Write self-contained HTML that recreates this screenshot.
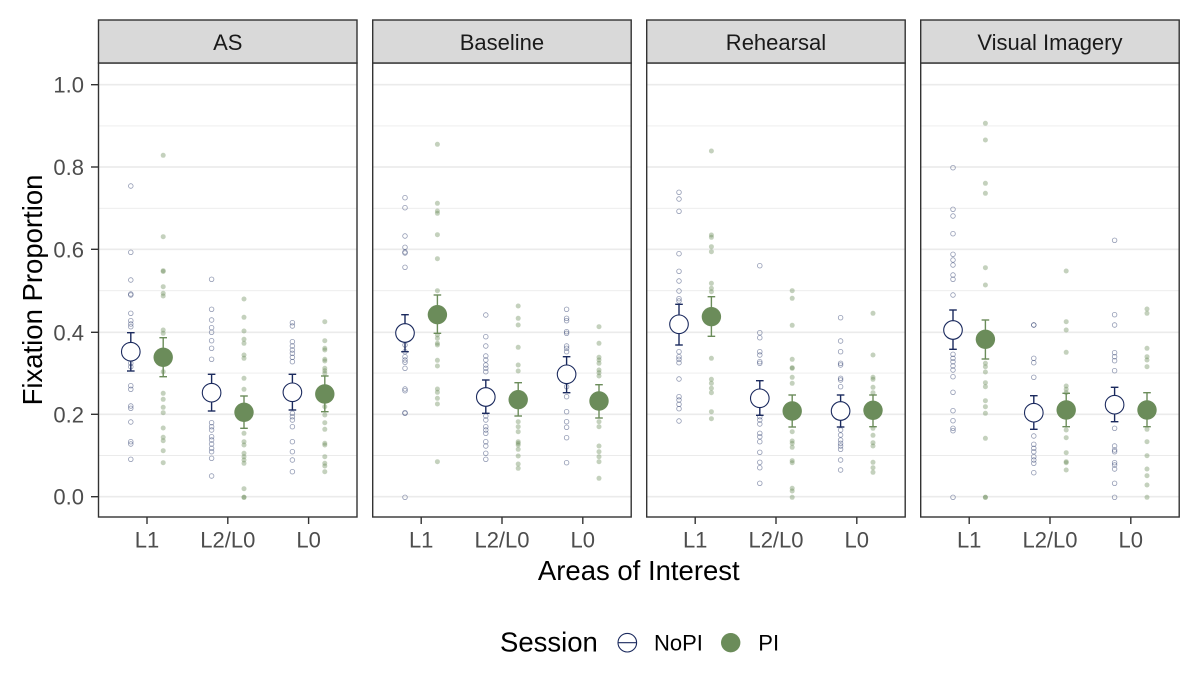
<!DOCTYPE html>
<html><head><meta charset="utf-8"><style>
html,body{margin:0;padding:0;background:#fff}
svg{display:block}
text{font-family:"Liberation Sans",Arial,sans-serif}
.n{fill:none;stroke:#283869;stroke-opacity:.5;stroke-width:.8}
.p{fill:#6b8c5a;fill-opacity:.4}
.en{stroke:#1b2a5e;stroke-width:1.4;fill:none}
.ep{stroke:#6b8c5a;stroke-width:1.4;fill:none}
.bn{fill:#fff;stroke:#1b2a5e;stroke-width:1.1}
.bp{fill:#6b8c5a}
.gM{stroke:#ebebeb;stroke-width:1.7}
.gm{stroke:#ebebeb;stroke-width:0.9}
.tl{font-size:22px;fill:#4d4d4d}
.st{font-size:22px;fill:#1a1a1a}
</style></head><body>
<svg width="1200" height="674" viewBox="0 0 1200 674" xmlns="http://www.w3.org/2000/svg">
<rect width="1200" height="674" fill="#fff"/>

<!-- y axis title -->
<text transform="translate(42,290) rotate(-90)" text-anchor="middle" font-size="27.5" fill="#000">Fixation Proportion</text>
<!-- y tick labels -->
<g class="tl" text-anchor="end">
<text x="84" y="92.7">1.0</text>
<text x="84" y="175">0.8</text>
<text x="84" y="257.3">0.6</text>
<text x="84" y="340.3">0.4</text>
<text x="84" y="422.3">0.2</text>
<text x="84" y="504.7">0.0</text>
</g>
<g stroke="#333" stroke-width="1.4">
<line x1="91" x2="98.5" y1="84.7" y2="84.7"/>
<line x1="91" x2="98.5" y1="167" y2="167"/>
<line x1="91" x2="98.5" y1="249.3" y2="249.3"/>
<line x1="91" x2="98.5" y1="332.3" y2="332.3"/>
<line x1="91" x2="98.5" y1="414.3" y2="414.3"/>
<line x1="91" x2="98.5" y1="496.7" y2="496.7"/>
</g>

<!-- panel template: defs -->
<defs>
<g id="grid">
<rect x="0" y="63" width="258.5" height="454" fill="#fff"/>
<line class="gm" x1="0" x2="258.5" y1="125.9" y2="125.9"/>
<line class="gm" x1="0" x2="258.5" y1="208.3" y2="208.3"/>
<line class="gm" x1="0" x2="258.5" y1="290.7" y2="290.7"/>
<line class="gm" x1="0" x2="258.5" y1="373.1" y2="373.1"/>
<line class="gm" x1="0" x2="258.5" y1="455.5" y2="455.5"/>
<line class="gM" x1="0" x2="258.5" y1="84.7" y2="84.7"/>
<line class="gM" x1="0" x2="258.5" y1="167" y2="167"/>
<line class="gM" x1="0" x2="258.5" y1="249.3" y2="249.3"/>
<line class="gM" x1="0" x2="258.5" y1="332.3" y2="332.3"/>
<line class="gM" x1="0" x2="258.5" y1="414.3" y2="414.3"/>
<line class="gM" x1="0" x2="258.5" y1="496.7" y2="496.7"/>
</g>
<g id="frame">
<rect x="0" y="63" width="258.5" height="454" fill="none" stroke="#333" stroke-width="1.4"/>
<rect x="0" y="20" width="258.5" height="43" fill="#d9d9d9" stroke="#333" stroke-width="1.4"/>
<g stroke="#333" stroke-width="1.4">
<line x1="48.5" x2="48.5" y1="517" y2="524"/>
<line x1="129.3" x2="129.3" y1="517" y2="524"/>
<line x1="210.1" x2="210.1" y1="517" y2="524"/>
</g>
<g class="tl" text-anchor="middle">
<text x="48.5" y="547.3">L1</text>
<text x="129.3" y="547.3">L2/L0</text>
<text x="210.1" y="547.3">L0</text>
</g>
</g>
</defs>

<!-- ===== Panel 1: AS ===== -->
<g transform="translate(98.5,0)">
<use href="#grid"/>
<g transform="translate(32.3,0)">
<circle class="n" cy="186" r="2.3"/><circle class="n" cy="252.3" r="2.3"/><circle class="n" cy="280" r="2.3"/><circle class="n" cy="294" r="2.3"/><circle class="n" cy="295" r="2.3"/><circle class="n" cy="313.3" r="2.3"/><circle class="n" cy="320.7" r="2.3"/><circle class="n" cy="324" r="2.3"/><circle class="n" cy="326.7" r="2.3"/><circle class="n" cy="363.3" r="2.3"/><circle class="n" cy="366.7" r="2.3"/><circle class="n" cy="385.7" r="2.3"/><circle class="n" cy="389.3" r="2.3"/><circle class="n" cy="406" r="2.3"/><circle class="n" cy="408.3" r="2.3"/><circle class="n" cy="422" r="2.3"/><circle class="n" cy="441.7" r="2.3"/><circle class="n" cy="444" r="2.3"/><circle class="n" cy="459.3" r="2.3"/>
<line class="en" x1="0" x2="0" y1="332.7" y2="371"/><line class="en" x1="-3.8" x2="3.8" y1="332.7" y2="332.7"/><line class="en" x1="-3.8" x2="3.8" y1="371" y2="371"/>
<circle class="bn" cy="351.7" r="9.3"/>
</g>
<g transform="translate(64.7,0)">
<circle class="p" cy="155.3" r="2.5"/><circle class="p" cy="236.7" r="2.5"/><circle class="p" cy="270.7" r="2.5"/><circle class="p" cy="271.5" r="2.5"/><circle class="p" cy="286.7" r="2.5"/><circle class="p" cy="293.3" r="2.5"/><circle class="p" cy="296" r="2.5"/><circle class="p" cy="330" r="2.5"/><circle class="p" cy="333.3" r="2.5"/><circle class="p" cy="371.7" r="2.5"/><circle class="p" cy="393.3" r="2.5"/><circle class="p" cy="399.3" r="2.5"/><circle class="p" cy="407.3" r="2.5"/><circle class="p" cy="412.7" r="2.5"/><circle class="p" cy="428" r="2.5"/><circle class="p" cy="437.3" r="2.5"/><circle class="p" cy="440.7" r="2.5"/><circle class="p" cy="450.7" r="2.5"/><circle class="p" cy="462.7" r="2.5"/>
<line class="ep" x1="0" x2="0" y1="337.7" y2="376.7"/><line class="ep" x1="-3.8" x2="3.8" y1="337.7" y2="337.7"/><line class="ep" x1="-3.8" x2="3.8" y1="376.7" y2="376.7"/>
<circle class="bp" cy="357.3" r="9.7"/>
</g>
<g transform="translate(113.1,0)">
<circle class="n" cy="279.3" r="2.3"/><circle class="n" cy="309.3" r="2.3"/><circle class="n" cy="320" r="2.3"/><circle class="n" cy="327.7" r="2.3"/><circle class="n" cy="332.3" r="2.3"/><circle class="n" cy="340.7" r="2.3"/><circle class="n" cy="348.3" r="2.3"/><circle class="n" cy="359.3" r="2.3"/><circle class="n" cy="422.7" r="2.3"/><circle class="n" cy="426.7" r="2.3"/><circle class="n" cy="430" r="2.3"/><circle class="n" cy="436.7" r="2.3"/><circle class="n" cy="440" r="2.3"/><circle class="n" cy="444" r="2.3"/><circle class="n" cy="448.3" r="2.3"/><circle class="n" cy="451.7" r="2.3"/><circle class="n" cy="458.3" r="2.3"/><circle class="n" cy="476" r="2.3"/>
<line class="en" x1="0" x2="0" y1="374.3" y2="411"/><line class="en" x1="-3.8" x2="3.8" y1="374.3" y2="374.3"/><line class="en" x1="-3.8" x2="3.8" y1="411" y2="411"/>
<circle class="bn" cy="392.7" r="9.3"/>
</g>
<g transform="translate(145.5,0)">
<circle class="p" cy="299" r="2.5"/><circle class="p" cy="317.3" r="2.5"/><circle class="p" cy="331" r="2.5"/><circle class="p" cy="339.3" r="2.5"/><circle class="p" cy="343.3" r="2.5"/><circle class="p" cy="355" r="2.5"/><circle class="p" cy="358.3" r="2.5"/><circle class="p" cy="378.3" r="2.5"/><circle class="p" cy="389.3" r="2.5"/><circle class="p" cy="433.3" r="2.5"/><circle class="p" cy="441.7" r="2.5"/><circle class="p" cy="445" r="2.5"/><circle class="p" cy="453.3" r="2.5"/><circle class="p" cy="456.7" r="2.5"/><circle class="p" cy="460" r="2.5"/><circle class="p" cy="463.3" r="2.5"/><circle class="p" cy="488.7" r="2.5"/><circle class="p" cy="497.3" r="2.5"/><circle class="p" cy="497.3" r="2.5"/>
<line class="ep" x1="0" x2="0" y1="396" y2="428.3"/><line class="ep" x1="-3.8" x2="3.8" y1="396" y2="396"/><line class="ep" x1="-3.8" x2="3.8" y1="428.3" y2="428.3"/>
<circle class="bp" cy="412.3" r="9.7"/>
</g>
<g transform="translate(193.9,0)">
<circle class="n" cy="322.7" r="2.3"/><circle class="n" cy="326" r="2.3"/><circle class="n" cy="341.7" r="2.3"/><circle class="n" cy="346" r="2.3"/><circle class="n" cy="350" r="2.3"/><circle class="n" cy="353.3" r="2.3"/><circle class="n" cy="357.3" r="2.3"/><circle class="n" cy="361.7" r="2.3"/><circle class="n" cy="413.3" r="2.3"/><circle class="n" cy="416.7" r="2.3"/><circle class="n" cy="420" r="2.3"/><circle class="n" cy="426.7" r="2.3"/><circle class="n" cy="441.7" r="2.3"/><circle class="n" cy="451.7" r="2.3"/><circle class="n" cy="460" r="2.3"/><circle class="n" cy="471.7" r="2.3"/>
<line class="en" x1="0" x2="0" y1="374.3" y2="410"/><line class="en" x1="-3.8" x2="3.8" y1="374.3" y2="374.3"/><line class="en" x1="-3.8" x2="3.8" y1="410" y2="410"/>
<circle class="bn" cy="392.3" r="9.3"/>
</g>
<g transform="translate(226.3,0)">
<circle class="p" cy="321.7" r="2.5"/><circle class="p" cy="340.7" r="2.5"/><circle class="p" cy="348.3" r="2.5"/><circle class="p" cy="350" r="2.5"/><circle class="p" cy="359.3" r="2.5"/><circle class="p" cy="361" r="2.5"/><circle class="p" cy="368.3" r="2.5"/><circle class="p" cy="370.7" r="2.5"/><circle class="p" cy="373.3" r="2.5"/><circle class="p" cy="406.7" r="2.5"/><circle class="p" cy="415" r="2.5"/><circle class="p" cy="422.7" r="2.5"/><circle class="p" cy="429.3" r="2.5"/><circle class="p" cy="443.3" r="2.5"/><circle class="p" cy="445" r="2.5"/><circle class="p" cy="456.7" r="2.5"/><circle class="p" cy="463.3" r="2.5"/><circle class="p" cy="466" r="2.5"/><circle class="p" cy="471.7" r="2.5"/>
<line class="ep" x1="0" x2="0" y1="376" y2="411.7"/><line class="ep" x1="-3.8" x2="3.8" y1="376" y2="376"/><line class="ep" x1="-3.8" x2="3.8" y1="411.7" y2="411.7"/>
<circle class="bp" cy="394" r="9.7"/>
</g>
<use href="#frame"/>
<text class="st" x="129.25" y="50" text-anchor="middle">AS</text>
</g>

<!-- ===== Panel 2: Baseline ===== -->
<g transform="translate(372.7,0)">
<use href="#grid"/>
<g transform="translate(32.3,0)">
<circle class="n" cy="197.7" r="2.3"/><circle class="n" cy="207.7" r="2.3"/><circle class="n" cy="236" r="2.3"/><circle class="n" cy="247.3" r="2.3"/><circle class="n" cy="252" r="2.3"/><circle class="n" cy="253" r="2.3"/><circle class="n" cy="267.3" r="2.3"/><circle class="n" cy="345" r="2.3"/><circle class="n" cy="351.7" r="2.3"/><circle class="n" cy="356.7" r="2.3"/><circle class="n" cy="360" r="2.3"/><circle class="n" cy="362.3" r="2.3"/><circle class="n" cy="368.3" r="2.3"/><circle class="n" cy="389" r="2.3"/><circle class="n" cy="390.7" r="2.3"/><circle class="n" cy="412.7" r="2.3"/><circle class="n" cy="413.3" r="2.3"/><circle class="n" cy="497.3" r="2.3"/>
<line class="en" x1="0" x2="0" y1="314.7" y2="351.7"/><line class="en" x1="-3.8" x2="3.8" y1="314.7" y2="314.7"/><line class="en" x1="-3.8" x2="3.8" y1="351.7" y2="351.7"/>
<circle class="bn" cy="333" r="9.3"/>
</g>
<g transform="translate(64.7,0)">
<circle class="p" cy="144.3" r="2.5"/><circle class="p" cy="203.3" r="2.5"/><circle class="p" cy="211" r="2.5"/><circle class="p" cy="213.3" r="2.5"/><circle class="p" cy="234.7" r="2.5"/><circle class="p" cy="258.7" r="2.5"/><circle class="p" cy="290.7" r="2.5"/><circle class="p" cy="335" r="2.5"/><circle class="p" cy="338.3" r="2.5"/><circle class="p" cy="343.3" r="2.5"/><circle class="p" cy="345" r="2.5"/><circle class="p" cy="360.3" r="2.5"/><circle class="p" cy="366" r="2.5"/><circle class="p" cy="389" r="2.5"/><circle class="p" cy="392.3" r="2.5"/><circle class="p" cy="398.3" r="2.5"/><circle class="p" cy="404" r="2.5"/><circle class="p" cy="461.7" r="2.5"/>
<line class="ep" x1="0" x2="0" y1="295" y2="333.3"/><line class="ep" x1="-3.8" x2="3.8" y1="295" y2="295"/><line class="ep" x1="-3.8" x2="3.8" y1="333.3" y2="333.3"/>
<circle class="bp" cy="314.7" r="9.7"/>
</g>
<g transform="translate(113.1,0)">
<circle class="n" cy="315" r="2.3"/><circle class="n" cy="336.7" r="2.3"/><circle class="n" cy="346" r="2.3"/><circle class="n" cy="356" r="2.3"/><circle class="n" cy="360" r="2.3"/><circle class="n" cy="365" r="2.3"/><circle class="n" cy="368.3" r="2.3"/><circle class="n" cy="371.7" r="2.3"/><circle class="n" cy="416" r="2.3"/><circle class="n" cy="420" r="2.3"/><circle class="n" cy="426.7" r="2.3"/><circle class="n" cy="430" r="2.3"/><circle class="n" cy="433.3" r="2.3"/><circle class="n" cy="441.7" r="2.3"/><circle class="n" cy="446" r="2.3"/><circle class="n" cy="453.3" r="2.3"/><circle class="n" cy="459.3" r="2.3"/>
<line class="en" x1="0" x2="0" y1="380" y2="413.3"/><line class="en" x1="-3.8" x2="3.8" y1="380" y2="380"/><line class="en" x1="-3.8" x2="3.8" y1="413.3" y2="413.3"/>
<circle class="bn" cy="397" r="9.3"/>
</g>
<g transform="translate(145.5,0)">
<circle class="p" cy="306" r="2.5"/><circle class="p" cy="318.3" r="2.5"/><circle class="p" cy="325" r="2.5"/><circle class="p" cy="347.3" r="2.5"/><circle class="p" cy="365" r="2.5"/><circle class="p" cy="371" r="2.5"/><circle class="p" cy="421.7" r="2.5"/><circle class="p" cy="426.7" r="2.5"/><circle class="p" cy="431.7" r="2.5"/><circle class="p" cy="441.7" r="2.5"/><circle class="p" cy="443.3" r="2.5"/><circle class="p" cy="445" r="2.5"/><circle class="p" cy="449.3" r="2.5"/><circle class="p" cy="456" r="2.5"/><circle class="p" cy="464" r="2.5"/><circle class="p" cy="468.3" r="2.5"/>
<line class="ep" x1="0" x2="0" y1="382.7" y2="416"/><line class="ep" x1="-3.8" x2="3.8" y1="382.7" y2="382.7"/><line class="ep" x1="-3.8" x2="3.8" y1="416" y2="416"/>
<circle class="bp" cy="399.7" r="9.7"/>
</g>
<g transform="translate(193.9,0)">
<circle class="n" cy="309.3" r="2.3"/><circle class="n" cy="318.3" r="2.3"/><circle class="n" cy="320.7" r="2.3"/><circle class="n" cy="331.7" r="2.3"/><circle class="n" cy="333.3" r="2.3"/><circle class="n" cy="346" r="2.3"/><circle class="n" cy="348.3" r="2.3"/><circle class="n" cy="351.7" r="2.3"/><circle class="n" cy="386.7" r="2.3"/><circle class="n" cy="396.7" r="2.3"/><circle class="n" cy="411.7" r="2.3"/><circle class="n" cy="421.7" r="2.3"/><circle class="n" cy="427.3" r="2.3"/><circle class="n" cy="437.7" r="2.3"/><circle class="n" cy="462.7" r="2.3"/>
<line class="en" x1="0" x2="0" y1="356.7" y2="392.7"/><line class="en" x1="-3.8" x2="3.8" y1="356.7" y2="356.7"/><line class="en" x1="-3.8" x2="3.8" y1="392.7" y2="392.7"/>
<circle class="bn" cy="374.3" r="9.3"/>
</g>
<g transform="translate(226.3,0)">
<circle class="p" cy="326.7" r="2.5"/><circle class="p" cy="343.3" r="2.5"/><circle class="p" cy="357.3" r="2.5"/><circle class="p" cy="360" r="2.5"/><circle class="p" cy="363.3" r="2.5"/><circle class="p" cy="370" r="2.5"/><circle class="p" cy="372.7" r="2.5"/><circle class="p" cy="376" r="2.5"/><circle class="p" cy="421.7" r="2.5"/><circle class="p" cy="426.7" r="2.5"/><circle class="p" cy="446" r="2.5"/><circle class="p" cy="451.7" r="2.5"/><circle class="p" cy="456.7" r="2.5"/><circle class="p" cy="461.7" r="2.5"/><circle class="p" cy="478.3" r="2.5"/>
<line class="ep" x1="0" x2="0" y1="384.7" y2="418"/><line class="ep" x1="-3.8" x2="3.8" y1="384.7" y2="384.7"/><line class="ep" x1="-3.8" x2="3.8" y1="418" y2="418"/>
<circle class="bp" cy="401" r="9.7"/>
</g>
<use href="#frame"/>
<text class="st" x="129.25" y="50" text-anchor="middle">Baseline</text>
</g>

<!-- ===== Panel 3: Rehearsal ===== -->
<g transform="translate(646.7,0)">
<use href="#grid"/>
<g transform="translate(32.3,0)">
<circle class="n" cy="192.3" r="2.3"/><circle class="n" cy="199" r="2.3"/><circle class="n" cy="211.3" r="2.3"/><circle class="n" cy="253.7" r="2.3"/><circle class="n" cy="271.3" r="2.3"/><circle class="n" cy="281" r="2.3"/><circle class="n" cy="291" r="2.3"/><circle class="n" cy="298.7" r="2.3"/><circle class="n" cy="301" r="2.3"/><circle class="n" cy="351.7" r="2.3"/><circle class="n" cy="356.7" r="2.3"/><circle class="n" cy="359.3" r="2.3"/><circle class="n" cy="362.7" r="2.3"/><circle class="n" cy="379" r="2.3"/><circle class="n" cy="396.7" r="2.3"/><circle class="n" cy="400" r="2.3"/><circle class="n" cy="404.3" r="2.3"/><circle class="n" cy="408.7" r="2.3"/><circle class="n" cy="421" r="2.3"/>
<line class="en" x1="0" x2="0" y1="304.3" y2="345"/><line class="en" x1="-3.8" x2="3.8" y1="304.3" y2="304.3"/><line class="en" x1="-3.8" x2="3.8" y1="345" y2="345"/>
<circle class="bn" cy="324.3" r="9.3"/>
</g>
<g transform="translate(64.7,0)">
<circle class="p" cy="151" r="2.5"/><circle class="p" cy="235" r="2.5"/><circle class="p" cy="237.3" r="2.5"/><circle class="p" cy="246.7" r="2.5"/><circle class="p" cy="251.7" r="2.5"/><circle class="p" cy="283.3" r="2.5"/><circle class="p" cy="288.3" r="2.5"/><circle class="p" cy="291.7" r="2.5"/><circle class="p" cy="358.3" r="2.5"/><circle class="p" cy="379.3" r="2.5"/><circle class="p" cy="383.3" r="2.5"/><circle class="p" cy="388.3" r="2.5"/><circle class="p" cy="392.7" r="2.5"/><circle class="p" cy="411.7" r="2.5"/><circle class="p" cy="418.7" r="2.5"/>
<line class="ep" x1="0" x2="0" y1="296.7" y2="336.3"/><line class="ep" x1="-3.8" x2="3.8" y1="296.7" y2="296.7"/><line class="ep" x1="-3.8" x2="3.8" y1="336.3" y2="336.3"/>
<circle class="bp" cy="316.7" r="9.7"/>
</g>
<g transform="translate(113.1,0)">
<circle class="n" cy="265.7" r="2.3"/><circle class="n" cy="332.7" r="2.3"/><circle class="n" cy="337.7" r="2.3"/><circle class="n" cy="351.7" r="2.3"/><circle class="n" cy="355" r="2.3"/><circle class="n" cy="361.7" r="2.3"/><circle class="n" cy="363.3" r="2.3"/><circle class="n" cy="416.7" r="2.3"/><circle class="n" cy="420" r="2.3"/><circle class="n" cy="424" r="2.3"/><circle class="n" cy="433.3" r="2.3"/><circle class="n" cy="436.7" r="2.3"/><circle class="n" cy="441.7" r="2.3"/><circle class="n" cy="452.3" r="2.3"/><circle class="n" cy="462.3" r="2.3"/><circle class="n" cy="467.7" r="2.3"/><circle class="n" cy="483.3" r="2.3"/>
<line class="en" x1="0" x2="0" y1="380.7" y2="415.3"/><line class="en" x1="-3.8" x2="3.8" y1="380.7" y2="380.7"/><line class="en" x1="-3.8" x2="3.8" y1="415.3" y2="415.3"/>
<circle class="bn" cy="398.3" r="9.3"/>
</g>
<g transform="translate(145.5,0)">
<circle class="p" cy="290.7" r="2.5"/><circle class="p" cy="298.3" r="2.5"/><circle class="p" cy="325.3" r="2.5"/><circle class="p" cy="359.3" r="2.5"/><circle class="p" cy="367.7" r="2.5"/><circle class="p" cy="368.3" r="2.5"/><circle class="p" cy="377.3" r="2.5"/><circle class="p" cy="383.3" r="2.5"/><circle class="p" cy="431.7" r="2.5"/><circle class="p" cy="441" r="2.5"/><circle class="p" cy="443.3" r="2.5"/><circle class="p" cy="447.3" r="2.5"/><circle class="p" cy="460.7" r="2.5"/><circle class="p" cy="462.7" r="2.5"/><circle class="p" cy="488.3" r="2.5"/><circle class="p" cy="491" r="2.5"/><circle class="p" cy="497.3" r="2.5"/>
<line class="ep" x1="0" x2="0" y1="395" y2="427"/><line class="ep" x1="-3.8" x2="3.8" y1="395" y2="395"/><line class="ep" x1="-3.8" x2="3.8" y1="427" y2="427"/>
<circle class="bp" cy="411" r="9.7"/>
</g>
<g transform="translate(193.9,0)">
<circle class="n" cy="317.7" r="2.3"/><circle class="n" cy="341" r="2.3"/><circle class="n" cy="351.7" r="2.3"/><circle class="n" cy="363.3" r="2.3"/><circle class="n" cy="365" r="2.3"/><circle class="n" cy="378.3" r="2.3"/><circle class="n" cy="380" r="2.3"/><circle class="n" cy="386.7" r="2.3"/><circle class="n" cy="430" r="2.3"/><circle class="n" cy="435" r="2.3"/><circle class="n" cy="440" r="2.3"/><circle class="n" cy="443.3" r="2.3"/><circle class="n" cy="446" r="2.3"/><circle class="n" cy="449.3" r="2.3"/><circle class="n" cy="460" r="2.3"/><circle class="n" cy="470" r="2.3"/>
<line class="en" x1="0" x2="0" y1="395" y2="427"/><line class="en" x1="-3.8" x2="3.8" y1="395" y2="395"/><line class="en" x1="-3.8" x2="3.8" y1="427" y2="427"/>
<circle class="bn" cy="411" r="9.3"/>
</g>
<g transform="translate(226.3,0)">
<circle class="p" cy="313.3" r="2.5"/><circle class="p" cy="355" r="2.5"/><circle class="p" cy="377.3" r="2.5"/><circle class="p" cy="379.3" r="2.5"/><circle class="p" cy="387.3" r="2.5"/><circle class="p" cy="392.7" r="2.5"/><circle class="p" cy="428.3" r="2.5"/><circle class="p" cy="435.3" r="2.5"/><circle class="p" cy="442.7" r="2.5"/><circle class="p" cy="446" r="2.5"/><circle class="p" cy="462.3" r="2.5"/><circle class="p" cy="467.7" r="2.5"/><circle class="p" cy="472.3" r="2.5"/>
<line class="ep" x1="0" x2="0" y1="395" y2="426.7"/><line class="ep" x1="-3.8" x2="3.8" y1="395" y2="395"/><line class="ep" x1="-3.8" x2="3.8" y1="426.7" y2="426.7"/>
<circle class="bp" cy="410.3" r="9.7"/>
</g>
<use href="#frame"/>
<text class="st" x="129.25" y="50" text-anchor="middle">Rehearsal</text>
</g>

<!-- ===== Panel 4: Visual Imagery ===== -->
<g transform="translate(920.7,0)">
<use href="#grid"/>
<g transform="translate(32.3,0)">
<circle class="n" cy="167.7" r="2.3"/><circle class="n" cy="209.3" r="2.3"/><circle class="n" cy="216" r="2.3"/><circle class="n" cy="233.7" r="2.3"/><circle class="n" cy="254.3" r="2.3"/><circle class="n" cy="260" r="2.3"/><circle class="n" cy="265" r="2.3"/><circle class="n" cy="275" r="2.3"/><circle class="n" cy="279.3" r="2.3"/><circle class="n" cy="295" r="2.3"/><circle class="n" cy="354.3" r="2.3"/><circle class="n" cy="358.3" r="2.3"/><circle class="n" cy="361.7" r="2.3"/><circle class="n" cy="366" r="2.3"/><circle class="n" cy="370" r="2.3"/><circle class="n" cy="376.7" r="2.3"/><circle class="n" cy="392.3" r="2.3"/><circle class="n" cy="410.7" r="2.3"/><circle class="n" cy="420.7" r="2.3"/><circle class="n" cy="428.3" r="2.3"/><circle class="n" cy="430.7" r="2.3"/><circle class="n" cy="497.3" r="2.3"/>
<line class="en" x1="0" x2="0" y1="310" y2="349.3"/><line class="en" x1="-3.8" x2="3.8" y1="310" y2="310"/><line class="en" x1="-3.8" x2="3.8" y1="349.3" y2="349.3"/>
<circle class="bn" cy="330" r="9.3"/>
</g>
<g transform="translate(64.7,0)">
<circle class="p" cy="123.3" r="2.5"/><circle class="p" cy="140" r="2.5"/><circle class="p" cy="183.3" r="2.5"/><circle class="p" cy="193.3" r="2.5"/><circle class="p" cy="267.7" r="2.5"/><circle class="p" cy="285" r="2.5"/><circle class="p" cy="363.3" r="2.5"/><circle class="p" cy="366.7" r="2.5"/><circle class="p" cy="372" r="2.5"/><circle class="p" cy="382.7" r="2.5"/><circle class="p" cy="386.7" r="2.5"/><circle class="p" cy="400.7" r="2.5"/><circle class="p" cy="406.7" r="2.5"/><circle class="p" cy="413.3" r="2.5"/><circle class="p" cy="438.3" r="2.5"/><circle class="p" cy="497.3" r="2.5"/><circle class="p" cy="497.3" r="2.5"/>
<line class="ep" x1="0" x2="0" y1="320" y2="359"/><line class="ep" x1="-3.8" x2="3.8" y1="320" y2="320"/><line class="ep" x1="-3.8" x2="3.8" y1="359" y2="359"/>
<circle class="bp" cy="339.3" r="9.7"/>
</g>
<g transform="translate(113.1,0)">
<circle class="n" cy="325" r="2.3"/><circle class="n" cy="325" r="2.3"/><circle class="n" cy="358.3" r="2.3"/><circle class="n" cy="362.7" r="2.3"/><circle class="n" cy="377.3" r="2.3"/><circle class="n" cy="436" r="2.3"/><circle class="n" cy="444.3" r="2.3"/><circle class="n" cy="448.3" r="2.3"/><circle class="n" cy="451.7" r="2.3"/><circle class="n" cy="456.7" r="2.3"/><circle class="n" cy="460" r="2.3"/><circle class="n" cy="463.3" r="2.3"/><circle class="n" cy="472.7" r="2.3"/>
<line class="en" x1="0" x2="0" y1="395.7" y2="429.3"/><line class="en" x1="-3.8" x2="3.8" y1="395.7" y2="395.7"/><line class="en" x1="-3.8" x2="3.8" y1="429.3" y2="429.3"/>
<circle class="bn" cy="412.7" r="9.3"/>
</g>
<g transform="translate(145.5,0)">
<circle class="p" cy="271" r="2.5"/><circle class="p" cy="321.7" r="2.5"/><circle class="p" cy="330" r="2.5"/><circle class="p" cy="352.3" r="2.5"/><circle class="p" cy="386" r="2.5"/><circle class="p" cy="389.3" r="2.5"/><circle class="p" cy="392.7" r="2.5"/><circle class="p" cy="430" r="2.5"/><circle class="p" cy="437.7" r="2.5"/><circle class="p" cy="452.7" r="2.5"/><circle class="p" cy="461.7" r="2.5"/><circle class="p" cy="462.7" r="2.5"/><circle class="p" cy="470" r="2.5"/>
<line class="ep" x1="0" x2="0" y1="393.3" y2="426.7"/><line class="ep" x1="-3.8" x2="3.8" y1="393.3" y2="393.3"/><line class="ep" x1="-3.8" x2="3.8" y1="426.7" y2="426.7"/>
<circle class="bp" cy="410" r="9.7"/>
</g>
<g transform="translate(193.9,0)">
<circle class="n" cy="240.3" r="2.3"/><circle class="n" cy="314.7" r="2.3"/><circle class="n" cy="325" r="2.3"/><circle class="n" cy="352.7" r="2.3"/><circle class="n" cy="356.7" r="2.3"/><circle class="n" cy="360.7" r="2.3"/><circle class="n" cy="370.7" r="2.3"/><circle class="n" cy="428.3" r="2.3"/><circle class="n" cy="446" r="2.3"/><circle class="n" cy="450" r="2.3"/><circle class="n" cy="451.7" r="2.3"/><circle class="n" cy="462.7" r="2.3"/><circle class="n" cy="465" r="2.3"/><circle class="n" cy="469" r="2.3"/><circle class="n" cy="483.3" r="2.3"/><circle class="n" cy="497.3" r="2.3"/>
<line class="en" x1="0" x2="0" y1="387.3" y2="421.7"/><line class="en" x1="-3.8" x2="3.8" y1="387.3" y2="387.3"/><line class="en" x1="-3.8" x2="3.8" y1="421.7" y2="421.7"/>
<circle class="bn" cy="404.7" r="9.3"/>
</g>
<g transform="translate(226.3,0)">
<circle class="p" cy="309" r="2.5"/><circle class="p" cy="313.3" r="2.5"/><circle class="p" cy="348.3" r="2.5"/><circle class="p" cy="356.7" r="2.5"/><circle class="p" cy="360" r="2.5"/><circle class="p" cy="366.7" r="2.5"/><circle class="p" cy="429.3" r="2.5"/><circle class="p" cy="441.7" r="2.5"/><circle class="p" cy="455.7" r="2.5"/><circle class="p" cy="469" r="2.5"/><circle class="p" cy="475.7" r="2.5"/><circle class="p" cy="485" r="2.5"/><circle class="p" cy="497.3" r="2.5"/>
<line class="ep" x1="0" x2="0" y1="392.7" y2="426.7"/><line class="ep" x1="-3.8" x2="3.8" y1="392.7" y2="392.7"/><line class="ep" x1="-3.8" x2="3.8" y1="426.7" y2="426.7"/>
<circle class="bp" cy="410" r="9.7"/>
</g>
<use href="#frame"/>
<text class="st" x="129.25" y="50" text-anchor="middle">Visual Imagery</text>
</g>

<!-- x axis title -->
<text x="638.8" y="580" text-anchor="middle" font-size="27.5" fill="#000">Areas of Interest</text>

<!-- legend -->
<text x="500" y="651.7" font-size="27.5" fill="#000">Session</text>
<circle cx="627.3" cy="642.7" r="9.3" fill="#fff" stroke="#1b2a5e" stroke-width="1.1"/>
<line x1="618" x2="636.6" y1="642.7" y2="642.7" stroke="#1b2a5e" stroke-width="1.1"/>
<text x="654" y="650.5" font-size="22" fill="#000">NoPI</text>
<circle cx="730.7" cy="642.7" r="9.7" fill="#6b8c5a"/>
<text x="758.3" y="650.5" font-size="22" fill="#000">PI</text>
</svg>
</body></html>
